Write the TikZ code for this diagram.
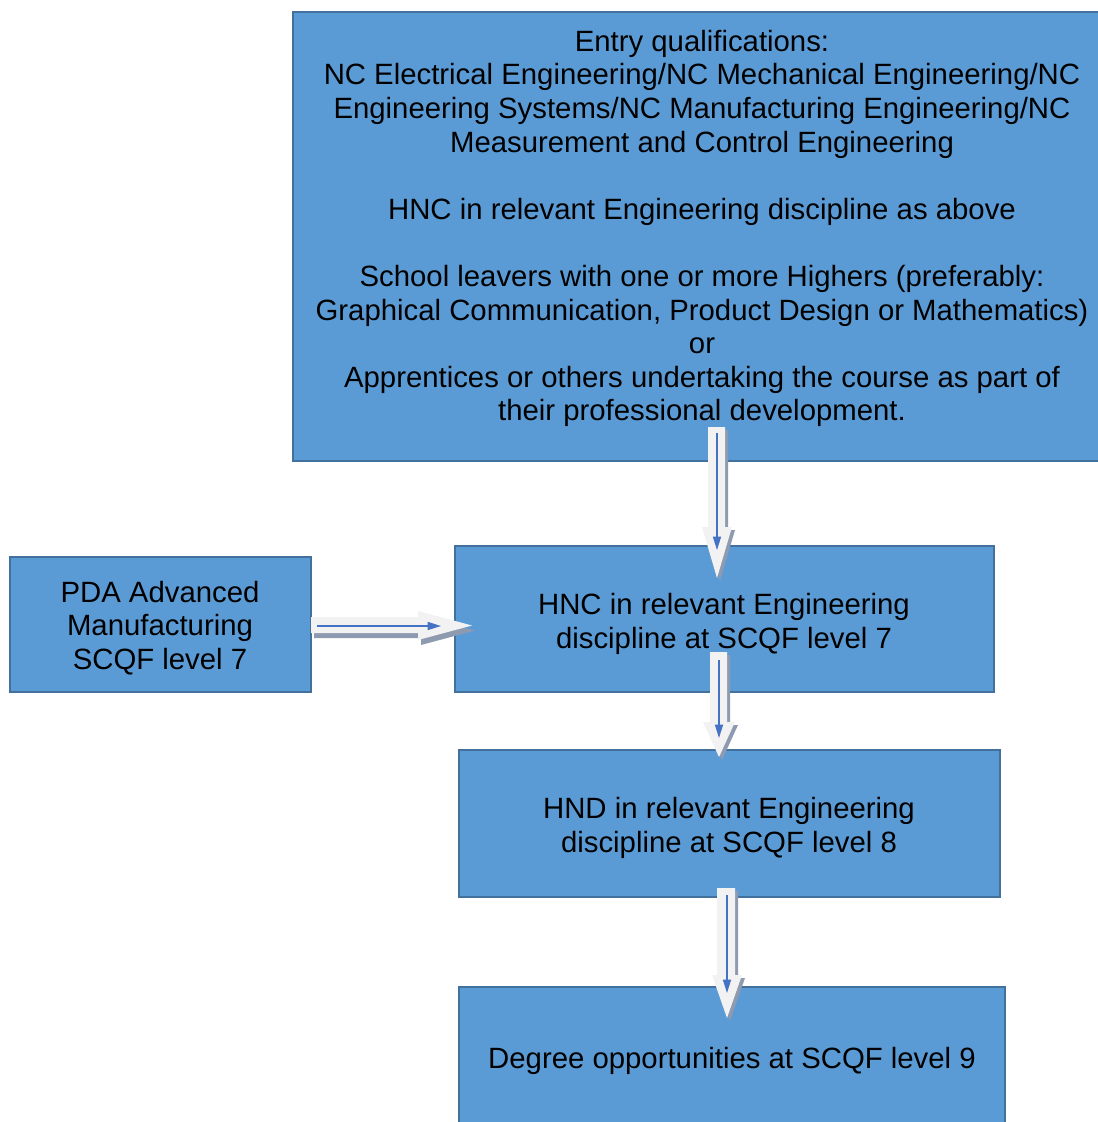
\documentclass[tikz,border=0pt]{standalone}
\usepackage{fontspec}
\setmainfont{Liberation Sans}
\usetikzlibrary{arrows.meta}
\definecolor{boxfill}{HTML}{5B9BD5}
\definecolor{boxline}{HTML}{41719C}
\definecolor{arrfill}{HTML}{F2F2F2}
\definecolor{arrshadow}{HTML}{8E9AAF}
\definecolor{arrline}{HTML}{4472C4}
\newcommand\blkdown[7]{%
  \fill[arrshadow,shift={(3,3)}] (#1,#3) -- (#2,#3) -- (#2,#4) -- (#6,#4) -- ({(#5+#6)/2},#7) -- (#5,#4) -- (#1,#4) -- cycle;
  \fill[arrfill] (#1,#3) -- (#2,#3) -- (#2,#4) -- (#6,#4) -- ({(#5+#6)/2},#7) -- (#5,#4) -- (#1,#4) -- cycle;
}
\begin{document}
\begin{tikzpicture}[x=0.75pt,y=-0.75pt,
  box/.style={draw=boxline,fill=boxfill,line width=1.5pt,rectangle,inner sep=0pt},
  txt/.style={font=\fontsize{22}{25.2}\selectfont,align=center,text=black,inner sep=0pt},
  flow/.style={draw=arrline,line width=1.1pt,-{Triangle[length=10pt,width=6pt]}}]
\useasboundingbox (0,0) rectangle (1097,1122);
% boxes
\node[box,minimum width=817*0.75pt,minimum height=449*0.75pt] (entry) at (701.5,236.5) {};
\node[box,minimum width=301*0.75pt,minimum height=135*0.75pt] (pda) at (160.5,624.5) {};
\node[box,minimum width=539*0.75pt,minimum height=146*0.75pt] (hnc) at (724.5,619) {};
\node[box,minimum width=541*0.75pt,minimum height=147*0.75pt] (hnd) at (729.5,823.5) {};
\node[box,minimum width=546*0.75pt,minimum height=160*0.75pt] (deg) at (732,1067) {};
% texts
\node[txt] (entrytxt) at (702,228.5) {Entry qualifications:\\
NC Electrical Engineering/NC Mechanical Engineering/NC\\
Engineering Systems/NC Manufacturing Engineering/NC\\
Measurement and Control Engineering\\
~\\
HNC in relevant Engineering discipline as above\\
~\\
School leavers with one or more Highers (preferably:\\
Graphical Communication, Product Design or Mathematics)\\
or\\
Apprentices or others undertaking the course as part of\\
their professional development.};
\node[txt] (pdatxt) at (160,628) {PDA Advanced\\Manufacturing\\SCQF level 7};
\node[txt] (hnctxt) at (724,624) {HNC in relevant Engineering\\discipline at SCQF level 7};
\node[txt] (hndtxt) at (729,828) {HND in relevant Engineering\\discipline at SCQF level 8};
\node[txt] (degtxt) at (732,1061) {Degree opportunities at SCQF level 9};
% block arrows
\blkdown{708}{725}{427}{527}{702}{732}{578}
\blkdown{710}{727}{652}{722}{703}{735}{757}
\blkdown{717}{735}{888}{975}{712}{742}{1018}
\fill[arrshadow,shift={(3,5)}] (311,617) -- (418,617) -- (418,611) -- (472,625.5) -- (418,640) -- (418,633) -- (311,633) -- cycle;
\fill[arrfill] (311,617) -- (418,617) -- (418,611) -- (472,625.5) -- (418,640) -- (418,633) -- (311,633) -- cycle;
% flow lines
\coordinate (a1s) at (717,433); \coordinate (a1e) at (717,550);
\coordinate (a2s) at (317,626); \coordinate (a2e) at (441,626);
\coordinate (a3s) at (719,660); \coordinate (a3e) at (719,738);
\coordinate (a4s) at (727,895); \coordinate (a4e) at (727,993);
\draw[flow] (a1s) -- (a1e);
\draw[flow] (a2s) -- (a2e);
\draw[flow] (a3s) -- (a3e);
\draw[flow] (a4s) -- (a4e);
\end{tikzpicture}
\end{document}
